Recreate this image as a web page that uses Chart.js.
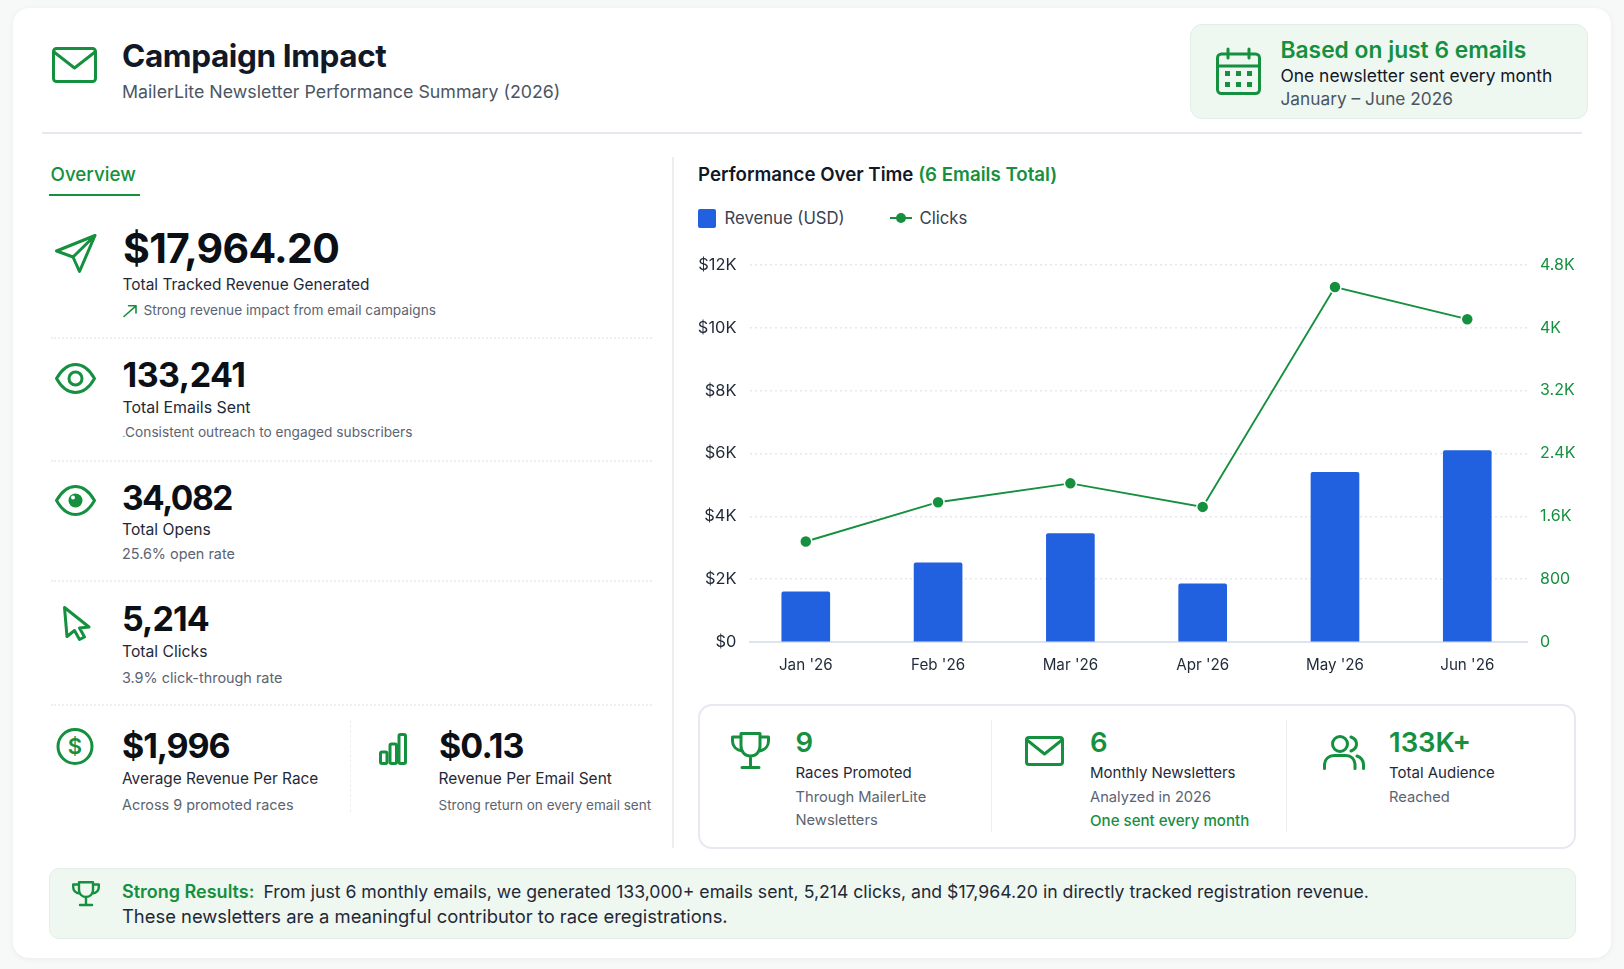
<!DOCTYPE html>
<html><head><meta charset="utf-8">
<script src="https://cdn.jsdelivr.net/npm/chart.js@4"></script>
<style>
*{box-sizing:border-box}
html,body{margin:0;padding:0;width:1624px;height:969px;overflow:hidden;background:#f7f8f8;font-family:Inter,"Noto Sans",sans-serif;color:#111827}
#card{position:absolute;left:13px;top:8px;width:1598px;height:950px;background:#fff;border-radius:16px;box-shadow:0 1px 6px rgba(17,24,39,.06)}
.t{position:absolute;white-space:nowrap;transform:translateY(-50%);line-height:1.2}
.box{position:absolute}
svg.i{position:absolute;fill:none;stroke:#15903f;stroke-width:2;stroke-linecap:round;stroke-linejoin:round;overflow:visible}
.g{color:#15903f}.big{font-weight:700;color:#0b0f16;font-size:34px;letter-spacing:-.5px}.lab{font-size:15.7px;font-weight:400;color:#1f2937}.sub{font-size:14.4px;color:#5b6472}.sub2{font-size:13.6px}
.dot{position:absolute;left:51px;width:601px;border-top:2px dotted #eceef3}
#chartWrap{position:absolute;left:690px;top:250px;width:900px;height:433px}
#legend{position:absolute;left:698px;top:218px;height:0}
.lg{position:absolute;top:0;transform:translateY(-50%);font-size:16.7px;color:#374151;white-space:nowrap}
.pl{font-size:15px;font-weight:400;color:#1f2937}.ps{font-size:14.7px;color:#5b6472}.pv{font-size:27.5px;font-weight:600}
</style></head><body>
<div id="card"></div>

<svg class="i" style="left:52px;top:47px;width:45px;height:36px" viewBox="0 0 45 36"><rect x="1.5" y="1.5" width="42" height="33" rx="3" stroke-width="3"/><path d="M2 5 L22.5 21 L43 5" stroke-width="3"/></svg>
<div class="t" style="left:122px;top:56px;font-size:31.5px;font-weight:700;color:#111827;letter-spacing:-.4px">Campaign Impact</div>
<div class="t" style="left:122px;top:92px;font-size:17.8px;color:#4b5563">MailerLite Newsletter Performance Summary (2026)</div>
<div class="box" style="left:42px;top:132px;width:1540px;height:1.5px;background:#e6e9f1"></div>

<div class="box" style="left:1190px;top:24px;width:398px;height:95px;background:#eff7f1;border:1.5px solid #e2efe6;border-radius:12px"></div>
<svg class="i" style="left:1216px;top:48px;width:45px;height:47px" viewBox="0 0 45 47"><rect x="1.5" y="6" width="42" height="39.5" rx="4" stroke-width="3"/><path d="M1.5 18 H43.5 M12 1 V10 M33 1 V10" stroke-width="3"/><g fill="#15903f" stroke="none"><rect x="9" y="23" width="5" height="5"/><rect x="20" y="23" width="5" height="5"/><rect x="31" y="23" width="5" height="5"/><rect x="9" y="34" width="5" height="5"/><rect x="20" y="34" width="5" height="5"/><rect x="31" y="34" width="5" height="5"/></g></svg>
<div class="t g" style="left:1280.5px;top:50px;font-size:22.8px;font-weight:600">Based on just 6 emails</div>
<div class="t" style="left:1280.5px;top:76px;font-size:17.4px;color:#111827">One newsletter sent every month</div>
<div class="t" style="left:1280.5px;top:99px;font-size:17.3px;color:#4b5563">January – June 2026</div>

<div class="t g" style="left:50.5px;top:174.5px;font-size:18.8px;font-weight:500">Overview</div>
<div class="box" style="left:49px;top:193.5px;width:91px;height:2.5px;background:#15903f"></div>
<div class="box" style="left:672px;top:157px;width:1.5px;height:691px;background:#eceef2"></div>

<svg class="i" style="left:55px;top:234px;width:41px;height:39px" viewBox="0 0 41 39"><path d="M40 1.5 L1.5 17 L18 23 L24.5 37.5 Z M40 1.5 L18 23" stroke-width="3"/></svg>
<div class="t big" style="left:123px;top:248.5px;font-size:41px;letter-spacing:-.7px">$17,964.20</div>
<div class="t lab" style="left:122.5px;top:284.5px;font-size:15.45px">Total Tracked Revenue Generated</div>
<svg class="i" style="left:123px;top:305px;width:14px;height:12px" viewBox="0 0 14 12"><path d="M1 11.5 L13 .8 M5.5 .8 H13 V8" stroke-width="1.6"/></svg>
<div class="t sub" style="left:143.5px;top:310px;font-size:13.65px">Strong revenue impact from email campaigns</div>
<div class="dot" style="top:337px"></div>

<svg class="i" style="left:55px;top:363px;width:41px;height:31px" viewBox="0 0 41 31"><path d="M1.5 15.5 C8 4 14 1.5 20.5 1.5 S33 4 39.5 15.5 C33 27 27 29.5 20.5 29.5 S8 27 1.5 15.5 Z" stroke-width="3"/><circle cx="20.5" cy="15.5" r="6.5" stroke-width="3"/></svg>
<div class="t big" style="left:122.5px;top:375px">133,241</div>
<div class="t lab" style="left:122.5px;top:407.5px;font-size:15.9px">Total Emails Sent</div>
<div class="t sub" style="left:122.5px;top:432px;font-size:13.7px"><span class="g" style="font-size:9px">.</span>Consistent outreach to engaged subscribers</div>
<div class="dot" style="top:459.5px"></div>

<svg class="i" style="left:55px;top:485px;width:41px;height:31px" viewBox="0 0 41 31"><path d="M1.5 15.5 C8 4 14 1.5 20.5 1.5 S33 4 39.5 15.5 C33 27 27 29.5 20.5 29.5 S8 27 1.5 15.5 Z" stroke-width="3"/><circle cx="20.5" cy="15.5" r="7" fill="#15903f" stroke="none"/><circle cx="18" cy="12.5" r="2" fill="#fff" stroke="none"/></svg>
<div class="t big" style="left:122px;top:497.5px;font-size:33.5px;letter-spacing:-1.5px">34,082</div>
<div class="t lab" style="left:122px;top:529.5px">Total Opens</div>
<div class="t sub" style="left:122px;top:554px">25.6% open rate</div>
<div class="dot" style="top:580px"></div>

<svg class="i" style="left:63px;top:606px;width:27px;height:35px" viewBox="0 0 27 35"><path d="M1.5 1.5 L26 21 L16.5 22 L21.5 31 L16.5 33.5 L11.5 24.5 L4 30.5 Z" stroke-width="3"/></svg>
<div class="t big" style="left:122px;top:618.5px;letter-spacing:-.9px">5,214</div>
<div class="t lab" style="left:122px;top:652px">Total Clicks</div>
<div class="t sub" style="left:122px;top:677.5px">3.9% click-through rate</div>
<div class="dot" style="top:704px"></div>

<svg class="i" style="left:56px;top:728px;width:38px;height:37px" viewBox="0 0 38 37"><circle cx="19" cy="18.5" r="17" stroke-width="3"/><text x="19" y="26" text-anchor="middle" font-family="Inter" font-size="22" font-weight="600" fill="#15903f" stroke="none">$</text></svg>
<div class="t big" style="left:122px;top:745.5px;letter-spacing:-1.1px">$1,996</div>
<div class="t lab" style="left:122px;top:779px;font-size:15.4px">Average Revenue Per Race</div>
<div class="t sub" style="left:122px;top:805px">Across 9 promoted races</div>
<div class="box" style="left:350px;top:720px;height:92px;border-left:1.5px dashed #eceef3"></div>
<svg class="i" style="left:379px;top:733px;width:28px;height:32px" viewBox="0 0 28 32"><rect x="1.5" y="19" width="6.5" height="11.5" rx="1.5" stroke-width="3"/><rect x="11" y="11" width="6.5" height="19.5" rx="1.5" stroke-width="3"/><rect x="20" y="1.5" width="6.5" height="29" rx="1.5" stroke-width="3"/></svg>
<div class="t big" style="left:439px;top:745.5px;letter-spacing:-.9px">$0.13</div>
<div class="t lab" style="left:438.5px;top:779px;font-size:15.5px">Revenue Per Email Sent</div>
<div class="t sub" style="left:438.5px;top:805px;font-size:13.5px">Strong return on every email sent</div>

<div class="t" style="left:698px;top:174.5px;font-size:18.7px;font-weight:600;color:#111827">Performance Over Time <span class="g">(6 Emails Total)</span></div>
<div id="legend"></div>
<div id="chartWrap"><canvas id="c" width="900" height="433"></canvas></div>

<div class="box" style="left:698px;top:704px;width:878px;height:145px;border:2px solid #e6e9f1;border-radius:14px"></div>
<div class="box" style="left:990.5px;top:720px;width:1.5px;height:112px;background:#eceef2"></div>
<div class="box" style="left:1285.5px;top:720px;width:1.5px;height:112px;background:#eceef2"></div>

<svg class="i" style="left:731px;top:732px;width:39px;height:37px" viewBox="0 0 39 37"><path d="M10 1.5 H29 V14 C29 20 25 24 19.5 24 S10 20 10 14 Z M10 5 H1.5 V9 C1.5 14 5 18 11 19 M29 5 H37.5 V9 C37.5 14 34 18 28 19 M19.5 24 V35 M11 35.5 H28" stroke-width="3"/></svg>
<div class="t g pv" style="left:795.5px;top:742px">9</div>
<div class="t pl" style="left:795.5px;top:773px">Races Promoted</div>
<div class="t ps" style="left:795.5px;top:797.5px">Through MailerLite</div>
<div class="t ps" style="left:795.5px;top:821px">Newsletters</div>

<svg class="i" style="left:1025px;top:736px;width:39px;height:30px" viewBox="0 0 39 30"><rect x="1.5" y="1.5" width="36" height="27" rx="2.5" stroke-width="3"/><path d="M2 4 L19.5 18 L37 4" stroke-width="3"/></svg>
<div class="t g pv" style="left:1090px;top:742px">6</div>
<div class="t pl" style="left:1090px;top:773px">Monthly Newsletters</div>
<div class="t ps" style="left:1090px;top:797.5px">Analyzed in 2026</div>
<div class="t g" style="left:1090px;top:821px;font-size:15.1px;font-weight:500">One sent every month</div>

<svg class="i" style="left:1323px;top:735px;width:42px;height:35px" viewBox="0 0 42 35"><circle cx="17" cy="9" r="7.5" stroke-width="3"/><path d="M1.5 33.5 V30 C1.5 24 6 20.5 11 20.5 H23 C28 20.5 32 24 32 30 V33.5 M28 2 C32 3.5 33.5 6 33.5 9 S32 14.5 28 16 M34 21 C38 22.5 40.5 26 40.5 30 V33.5" stroke-width="3"/></svg>
<div class="t g pv" style="left:1389px;top:742px">133K+</div>
<div class="t pl" style="left:1389px;top:773px">Total Audience</div>
<div class="t ps" style="left:1389px;top:797.5px">Reached</div>

<div class="box" style="left:48.5px;top:867.5px;width:1527.5px;height:71.5px;background:#eff7f1;border:1.5px solid #e2efe6;border-radius:10px"></div>
<svg class="i" style="left:71.5px;top:881px;width:28px;height:25px" viewBox="0 0 28 25"><path d="M7 1.2 H21 V9 C21 13 18 16 14 16 S7 13 7 9 Z M7 3.5 H1.2 V6 C1.2 9.5 3.5 12 8 12.5 M21 3.5 H26.8 V6 C26.8 9.5 24.5 12 20 12.5 M14 16 V23.5 M8 24 H20" stroke-width="2.4"/></svg>
<div class="t" style="left:122px;top:892px;font-size:17.65px;color:#1f2937"><span class="g" style="font-weight:600;font-size:18px;margin-right:9px">Strong Results:</span>From just 6 monthly emails, we generated 133,000+ emails sent, 5,214 clicks, and $17,964.20 in directly tracked registration revenue.</div>
<div class="t" style="left:122px;top:916px;font-size:18.4px;color:#1f2937">These newsletters are a meaningful contributor to race eregistrations.</div>

<script>
const categories = ["Jan '26","Feb '26","Mar '26","Apr '26","May '26","Jun '26"];
const revenueValues = [1600,2520,3450,1850,5400,6090];
const clickValues = [1280,1780,2020,1720,4520,4110];
const revenueTicks = [0,2000,4000,6000,8000,10000,12000];
const clickTicks = [0,800,1600,2400,3200,4000,4800];

const GREEN='#15903f', BLUE='#2160de';
const noPad=s=>{s.paddingTop=0;s.paddingBottom=0;};
const chart=new Chart(document.getElementById('c'),{
  type:'bar',
  data:{labels:categories,datasets:[
    {type:'line',label:'Clicks',data:clickValues,yAxisID:'y1',borderColor:GREEN,borderWidth:1.9,tension:0,
     pointRadius:6,pointHoverRadius:6,pointBackgroundColor:GREEN,pointBorderColor:'#fff',pointBorderWidth:1.5,order:1},
    {type:'bar',label:'Revenue (USD)',data:revenueValues,yAxisID:'y',backgroundColor:BLUE,barThickness:48,borderRadius:{topLeft:2,topRight:2},order:2}
  ]},
  options:{
    responsive:false,animation:false,devicePixelRatio:1,
    layout:{autoPadding:false,padding:{top:15,left:0,right:0,bottom:0}},
    plugins:{legend:{display:false},tooltip:{enabled:false}},
    scales:{
      x:{type:'category',offset:true,
         grid:{display:false},
         border:{display:true,color:'#dfe3ee',width:2},
         ticks:{font:{family:'Inter',size:15.2},color:'#1f2937',padding:6,maxRotation:0,autoSkip:false},
         afterBuildTicks:s=>{s._startValue=-0.4186;s._valueRange=5.87;},
         afterFit:s=>{s.height=41;s.paddingLeft=0;s.paddingRight=0;}},
      y:{position:'left',min:0,max:12000,
         afterBuildTicks:s=>{s.ticks=revenueTicks.map(value=>({value}));},
         grid:{color:'#e6e8ee',lineWidth:1.5,drawTicks:false},
         border:{display:false,dash:[2,3]},
         ticks:{font:{family:'Inter',size:16.4},color:'#1f2937',padding:14,callback:v=>v===0?'$0':'$'+(v/1000)+'K'},
         afterFit:s=>{s.width=60.4;noPad(s);}},
      y1:{position:'right',min:0,max:4800,
         afterBuildTicks:s=>{s.ticks=clickTicks.map(value=>({value}));},
         grid:{display:false},border:{display:false},
         ticks:{font:{family:'Inter',size:16},color:GREEN,padding:5,callback:v=>v>=1000?(v/1000)+'K':String(v)},
         afterFit:s=>{s.width=63;noPad(s);}}
    }
  }
});

// legend built from the chart's own datasets
const lg=document.getElementById('legend');
const [lineDs,barDs]=chart.data.datasets;
lg.innerHTML=
 `<div style="position:absolute;left:0;top:-9.5px;width:18px;height:19px;background:${barDs.backgroundColor};border-radius:2px"></div>`+
 `<div class="lg" style="left:26.5px">${barDs.label}</div>`+
 `<div style="position:absolute;left:192px;top:-1.2px;width:22px;height:2.4px;background:${lineDs.borderColor}"></div>`+
 `<div style="position:absolute;left:198px;top:-5px;width:10px;height:10px;border-radius:50%;background:${lineDs.borderColor}"></div>`+
 `<div class="lg" style="left:221.5px">${lineDs.label}</div>`;
</script>
</body></html>
